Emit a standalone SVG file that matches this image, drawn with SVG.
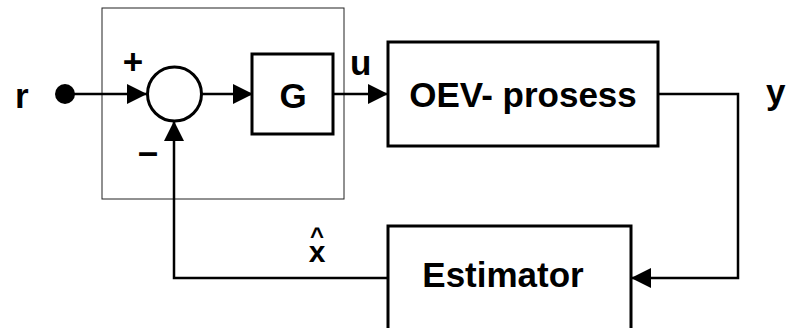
<svg xmlns="http://www.w3.org/2000/svg" width="790" height="328" viewBox="0 0 790 328">
<style>
.blk{fill:#fff;stroke:#000;stroke-width:3}
.lbl{font-family:"Liberation Sans",Arial,sans-serif;font-weight:bold;fill:#000}
.wire{fill:none;stroke:#000;stroke-width:2.5}
</style>
<defs>
<marker id="ah" viewBox="0 0 20 20" refX="20" refY="10" markerWidth="20" markerHeight="20" markerUnits="userSpaceOnUse" orient="auto">
<path d="M0,0 L20,10 L0,20 z" fill="#000"/>
</marker>
</defs>
<rect id="frame" x="102" y="8" width="242" height="191" fill="none" stroke="#222" stroke-width="1"/>
<g id="connectors">
<path class="wire" d="M65,94 H147" marker-end="url(#ah)"/>
<path class="wire" d="M201,94 H253" marker-end="url(#ah)"/>
<path class="wire" d="M333,94 H388" marker-end="url(#ah)"/>
<path class="wire" d="M658,94 H738 V278 H631" marker-end="url(#ah)"/>
<path class="wire" d="M388,278 H174 V121" marker-end="url(#ah)"/>
</g>
<g id="input_r">
<circle cx="65" cy="94" r="10" fill="#000"/>
<text class="lbl" x="15" y="108" font-size="35">r</text>
</g>
<g id="sum">
<circle cx="174.5" cy="94" r="27" fill="none" stroke="#000" stroke-width="3"/>
<text class="lbl" x="133" y="74" font-size="35" text-anchor="middle">+</text>
<text class="lbl" x="148" y="164" font-size="36" text-anchor="middle">–</text>
</g>
<g id="G">
<rect class="blk" x="252" y="54" width="81" height="80"/>
<text class="lbl" x="293" y="108" font-size="35" text-anchor="middle">G</text>
</g>
<text class="lbl" x="350" y="75" font-size="35">u</text>
<g id="process">
<rect class="blk" x="388" y="42" width="270" height="104"/>
<text class="lbl" x="523" y="107" font-size="35" text-anchor="middle">OEV- prosess</text>
</g>
<text class="lbl" x="766" y="104" font-size="35">y</text>
<g id="estimator">
<rect class="blk" x="388" y="226" width="243" height="120"/>
<text class="lbl" x="503" y="287" font-size="35" text-anchor="middle">Estimator</text>
</g>
<text id="xhat" class="lbl" text-anchor="middle"><tspan x="317" y="244" font-size="24">^</tspan><tspan x="317" y="262" font-size="30">x</tspan></text>
</svg>
